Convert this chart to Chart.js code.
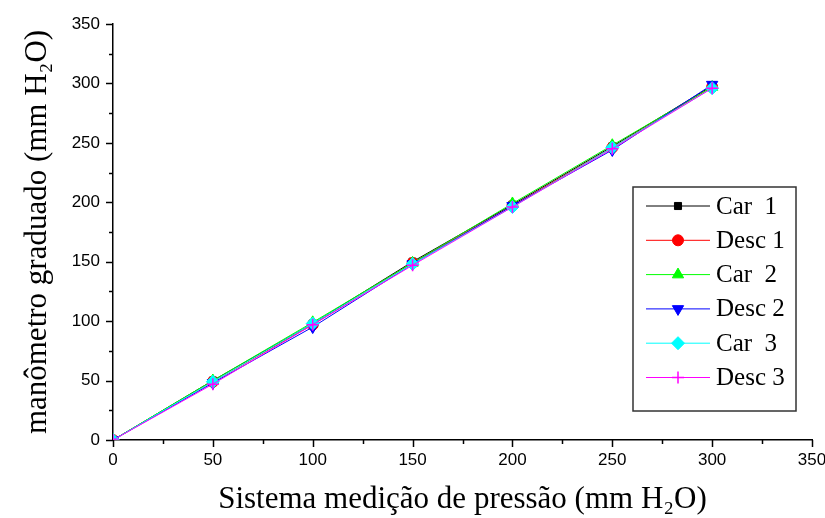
<!DOCTYPE html>
<html>
<head>
<meta charset="utf-8">
<script src="https://cdn.jsdelivr.net/npm/chart.js@4.4.1/dist/chart.umd.min.js"></script>
<style>
html,body{margin:0;padding:0;background:#fff;}
#wrap{width:825px;height:518px;}
</style>
</head>
<body>
<div id="wrap"><canvas id="c" width="825" height="518"></canvas></div>
<script>
const xValues = [0, 50, 100, 150, 200, 250, 300];
const car1  = [0, 50, 98, 150, 198, 247, 298];
const desc1 = [0, 49, 97, 149, 197, 246, 297];
const car2  = [0, 50, 99, 149, 199, 248, 297];
const desc2 = [0, 48, 95, 148, 197, 244, 299];
const car3  = [0, 49, 98, 148, 196, 246, 296];
const desc3 = [0, 47, 97, 147, 196, 245, 296];
const seriesLabels = ['Car  1', 'Desc 1', 'Car  2', 'Desc 2', 'Car  3', 'Desc 3'];
const xTitle = 'Sistema medição de pressão (mm H\u2082O)';
const yTitle = 'manômetro graduado (mm H\u2082O)';

const seriesData = [car1, desc1, car2, desc2, car3, desc3];
const styles = [
  {color:'#000000', pointStyle:'rect', rotation:0, radius:5},
  {color:'#ff0000', pointStyle:'circle', rotation:0, radius:5.5},
  {color:'#00ff00', pointStyle:'triangle', rotation:0, radius:6.5},
  {color:'#0000ff', pointStyle:'triangle', rotation:180, radius:6.5},
  {color:'#00ffff', pointStyle:'rectRot', rotation:0, radius:6.5},
  {color:'#ff00ff', pointStyle:'cross', rotation:0, radius:6}
];

const datasets = seriesData.map((arr, i) => ({
  label: seriesLabels[i],
  data: arr.map((y, j) => ({x: xValues[j], y: y})),
  order: seriesData.length - 1 - i,
  borderColor: styles[i].color,
  backgroundColor: styles[i].color,
  pointBackgroundColor: styles[i].color,
  pointBorderColor: styles[i].color,
  pointStyle: styles[i].pointStyle,
  pointRotation: styles[i].rotation,
  pointRadius: styles[i].radius,
  pointBorderWidth: styles[i].pointStyle === 'cross' ? 1.5 : 1,
  borderWidth: 1,
  tension: 0,
  fill: false
}));

const tickPlugin = {
  id: 'ticks',
  afterDraw(chart) {
    const ctx = chart.ctx;
    const xs = chart.scales.x, ys = chart.scales.y;
    const ca = chart.chartArea;
    ctx.save();
    ctx.strokeStyle = '#000';
    ctx.lineWidth = 1.5;
    for (let v = 0; v <= 350; v += 25) {
      const len = v % 50 === 0 ? 7 : 4;
      const px = Math.round(xs.getPixelForValue(v)) + 0.5;
      ctx.beginPath(); ctx.moveTo(px, ca.bottom); ctx.lineTo(px, ca.bottom + len); ctx.stroke();
      const py = Math.round(ys.getPixelForValue(v)) + 0.5;
      ctx.beginPath(); ctx.moveTo(ca.left, py); ctx.lineTo(ca.left - len, py); ctx.stroke();
    }
    ctx.restore();
  }
};

const legendPlugin = {
  id: 'boxLegend',
  afterDraw(chart) {
    const ctx = chart.ctx;
    const x0 = 633, y0 = 187, w = 163, h = 224;
    ctx.save();
    ctx.fillStyle = '#fff';
    ctx.fillRect(x0, y0, w, h);
    ctx.strokeStyle = '#333';
    ctx.lineWidth = 1.5;
    ctx.strokeRect(x0, y0, w, h);
    ctx.font = '25px "Liberation Serif", "Times New Roman", serif';
    ctx.textBaseline = 'middle';
    chart.data.datasets.forEach((ds, i) => {
      const cy = y0 + 19 + i * 34.3;
      ctx.strokeStyle = ds.borderColor;
      ctx.lineWidth = 1;
      ctx.beginPath(); ctx.moveTo(646, cy); ctx.lineTo(710, cy); ctx.stroke();
      ctx.fillStyle = ds.borderColor;
      ctx.strokeStyle = ds.borderColor;
      ctx.lineWidth = ds.pointBorderWidth;
      Chart.helpers.drawPoint(ctx, {pointStyle: ds.pointStyle, rotation: ds.pointRotation, radius: ds.pointRadius, borderWidth: ds.pointBorderWidth}, 678, cy);
      ctx.fillStyle = '#000';
      ctx.fillText(ds.label, 716, cy + 1);
    });
    ctx.restore();
  }
};

new Chart(document.getElementById('c'), {
  type: 'line',
  data: { datasets },
  plugins: [tickPlugin, legendPlugin],
  options: {
    responsive: false,
    animation: false,
    devicePixelRatio: 1,
    layout: { padding: { top: 24, right: 13, left: 0, bottom: 0 } },
    plugins: { legend: { display: false }, tooltip: { enabled: false } },
    scales: {
      x: {
        type: 'linear', min: 0, max: 350,
        afterFit(s) { s.height = 78; s.paddingRight = 0; s.paddingLeft = 0; },
        grid: { display: false, drawTicks: false },
        border: { display: true, color: '#000', width: 1.5 },
        ticks: { stepSize: 50, padding: 10, color: '#000', font: { family: '"Liberation Sans Narrow", "Liberation Sans", Arial, sans-serif', size: 17 } },
        title: { display: true, text: xTitle, color: '#000', padding: 0, font: { family: '"Liberation Serif", "Times New Roman", serif', size: 31 } }
      },
      y: {
        type: 'linear', min: 0, max: 350,
        afterFit(s) { s.width = 113; s.paddingTop = 0; s.paddingBottom = 0; },
        grid: { display: false, drawTicks: false },
        border: { display: true, color: '#000', width: 1.5 },
        ticks: { stepSize: 50, padding: 13, color: '#000', font: { family: '"Liberation Sans", Arial, sans-serif', size: 17 } },
        title: { display: true, text: yTitle, color: '#000', padding: 19, font: { family: '"Liberation Serif", "Times New Roman", serif', size: 31 } }
      }
    }
  }
});
</script>
</body>
</html>
